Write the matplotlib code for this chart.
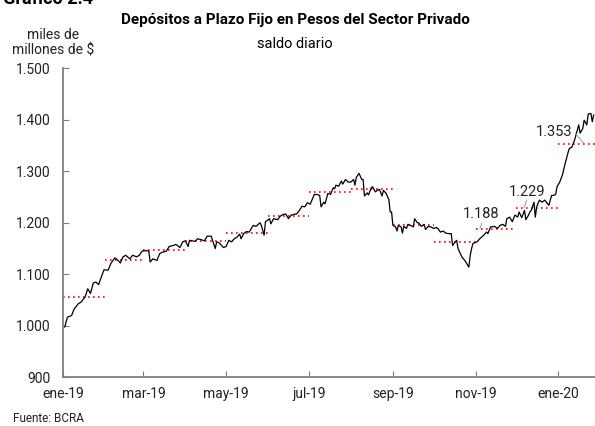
import pandas as pd
import matplotlib
matplotlib.use("Agg")
import matplotlib.pyplot as plt
from matplotlib.ticker import FixedLocator, FuncFormatter

plt.rcParams['font.family'] = ['Roboto', 'DejaVu Sans']

# daily balance (days counted from 1-jan-2019)
days = [1, 3, 6, 8, 11, 13, 16, 18, 20, 22, 24, 26, 28, 30, 33, 35, 38, 40, 42, 44,
        46, 49, 51, 54, 56, 58, 61, 63, 64, 66, 69, 71, 73, 76, 78, 81, 83, 86, 88, 90,
        92, 93, 97, 99, 102, 104, 106, 109, 110, 112, 113, 115, 118, 120, 122, 124, 126, 128, 130, 131,
        133, 135, 137, 140, 142, 145, 146, 148, 149, 152, 153, 155, 158, 160, 162, 164, 166, 168, 171, 172,
        174, 176, 178, 180, 182, 185, 187, 189, 190, 192, 193, 195, 197, 199, 200, 201, 203, 205, 206, 208,
        210, 212, 214, 215, 216, 218, 220, 221, 222, 224, 225, 227, 228, 230, 231, 233, 235, 236, 238, 240,
        241, 242, 243, 245, 246, 247, 249, 250, 251, 253, 254, 256, 258, 259, 261, 262, 264, 266, 267, 269,
        271, 273, 275, 276, 278, 280, 282, 284, 286, 287, 289, 290, 291, 294, 296, 299, 300, 301, 302, 305,
        307, 310, 312, 313, 315, 318, 320, 322, 324, 326, 327, 329, 331, 333, 335, 336, 338, 340, 341, 343,
        344, 345, 347, 348, 349, 351, 353, 355, 357, 358, 360, 361, 363, 364, 366, 368, 370, 372, 373, 375,
        377, 379, 380, 381, 383, 384, 386, 387, 389, 390, 391]
saldo = [998, 1017, 1020, 1033, 1043, 1046, 1056, 1072, 1063, 1083, 1085, 1080, 1095, 1109, 1108, 1121, 1132, 1128, 1122, 1134,
         1137, 1130, 1137, 1134, 1137, 1145, 1146, 1145, 1124, 1130, 1127, 1140, 1143, 1145, 1154, 1156, 1158, 1152, 1163, 1165,
         1154, 1166, 1164, 1169, 1167, 1165, 1174, 1174, 1166, 1150, 1163, 1161, 1152, 1154, 1166, 1163, 1169, 1172, 1178, 1169,
         1179, 1183, 1182, 1195, 1193, 1200, 1195, 1176, 1202, 1208, 1198, 1208, 1206, 1213, 1216, 1217, 1208, 1215, 1217, 1217,
         1224, 1232, 1231, 1239, 1236, 1255, 1255, 1253, 1231, 1240, 1237, 1257, 1255, 1268, 1266, 1273, 1271, 1281, 1275, 1284,
         1279, 1279, 1284, 1273, 1288, 1296, 1284, 1284, 1252, 1258, 1254, 1268, 1270, 1260, 1262, 1265, 1252, 1263, 1257, 1245,
         1221, 1221, 1195, 1192, 1184, 1195, 1192, 1180, 1193, 1189, 1197, 1195, 1192, 1208, 1200, 1200, 1193, 1197, 1187, 1193,
         1192, 1189, 1191, 1189, 1182, 1184, 1180, 1179, 1179, 1156, 1163, 1166, 1150, 1133, 1127, 1114, 1137, 1150, 1160, 1163,
         1169, 1176, 1182, 1179, 1192, 1193, 1189, 1195, 1197, 1193, 1208, 1211, 1202, 1215, 1211, 1221, 1210, 1224, 1206, 1215,
         1221, 1224, 1240, 1211, 1231, 1244, 1240, 1244, 1237, 1234, 1253, 1253, 1255, 1270, 1279, 1293, 1315, 1335, 1344, 1347,
         1361, 1380, 1390, 1374, 1383, 1399, 1390, 1411, 1412, 1396, 1409]

# monthly averages (red dotted lines)
mes_inicio = ['2019-01-01', '2019-02-01', '2019-03-01', '2019-04-01', '2019-05-01', '2019-06-01', '2019-07-01',
              '2019-08-01', '2019-09-01', '2019-10-01', '2019-11-01', '2019-12-01', '2020-01-01']
promedio = [1056, 1128, 1148, 1164, 1181, 1214, 1259, 1266, 1195, 1162, 1188, 1229, 1353]

etiquetas = ['1.188', '1.229', '1.353']
xticks = ['2019-01-01', '2019-03-01', '2019-05-01', '2019-07-01', '2019-09-01', '2019-11-01', '2020-01-01']
xlabels = ['ene-19', 'mar-19', 'may-19', 'jul-19', 'sep-19', 'nov-19', 'ene-20']

inicio = pd.Timestamp('2019-01-01')
fin = pd.Timestamp('2020-01-28')
fechas = inicio + pd.to_timedelta(days, unit='D')
d = lambda n: inicio + pd.Timedelta(days=n)

fig = plt.figure(figsize=(5.95, 4.26), dpi=100)
ax = fig.add_axes([0.1065, 0.114, 0.8935, 0.726])

ax.plot(fechas, saldo, color='black', lw=0.9, zorder=3)

meses = pd.to_datetime(mes_inicio)
for i, (m, v) in enumerate(zip(meses, promedio)):
    m_fin = meses[i + 1] if i + 1 < len(meses) else fin
    ax.plot([m, m_fin], [v, v], color='red', lw=1.2, ls=(0, (1, 2)), zorder=2)

# labels for the last three averages, with short grey leaders
txt_pos = [(308, 1218), (342, 1259), (362, 1376)]
lineas = [((308.5, 1199), (307.2, 1189)), ((341.7, 1244), (339.7, 1230)), ((377.4, 1374), (383.5, 1355))]
for txt, (tx, ty), ((x0, y0), (x1, y1)) in zip(etiquetas, txt_pos, lineas):
    ax.text(d(tx), ty, txt, ha='center', va='center', fontsize=10.5, color='#222222', zorder=4)
    ax.plot([d(x0), d(x1)], [y0, y1], color='#999999', lw=0.7, zorder=4)

ax.set_xlim(inicio, fin)
ax.set_ylim(900, 1500)
ax.yaxis.set_major_locator(FixedLocator(range(900, 1501, 100)))
ax.yaxis.set_major_formatter(FuncFormatter(lambda v, p: f'{int(v):,}'.replace(',', '.')))
ax.set_xticks(pd.to_datetime(xticks))
ax.set_xticklabels(xlabels)

for s in ['top', 'right']:
    ax.spines[s].set_visible(False)
for s in ['left', 'bottom']:
    ax.spines[s].set_color('#7f7f7f')
    ax.spines[s].set_linewidth(1.3)
ax.tick_params(axis='both', direction='in', length=4, width=0.8, color='#7f7f7f',
               labelsize=10, labelcolor='#222222')
ax.tick_params(axis='y', pad=9.5)
ax.tick_params(axis='x', pad=7)

fig.text(0.005, 0.9905, 'Gráfico 2.4', fontsize=13, fontweight='bold', va='baseline', ha='left')
fig.text(0.496, 0.952, 'Depósitos a Plazo Fijo en Pesos del Sector Privado',
         fontsize=11, fontweight='bold', ha='center', va='center')
fig.text(0.496, 0.896, 'saldo diario', fontsize=10.5, ha='center', va='center')
fig.text(0.089, 0.899, 'miles de\nmillones de $', fontsize=10, ha='center', va='center',
         linespacing=1.15, color='#222222')
fig.text(0.022, 0.0165, 'Fuente: BCRA', fontsize=8.5, ha='left', va='center', color='#222222')

fig.savefig('out.png', dpi=100)
plt.close(fig)
